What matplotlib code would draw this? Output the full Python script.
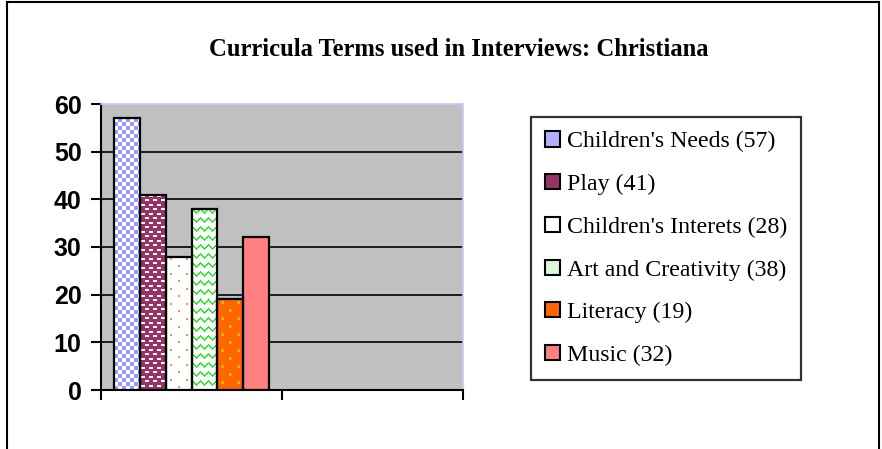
import numpy as np
import matplotlib
matplotlib.use("Agg")
from matplotlib import pyplot as plt
from matplotlib.patches import Patch, Rectangle
from matplotlib.colors import to_rgb

# chart data
terms = ["Children's Needs", "Play", "Children's Interets",
         "Art and Creativity", "Literacy", "Music"]
counts = [57, 41, 28, 38, 19, 32]
yticks = [0, 10, 20, 30, 40, 50, 60]

bar_colors = ["#9999ff", "#993366", "#ffffff", "#ffffff", "#ff6600", "#ff8080"]
mark_colors = ["#ffffff", "#ffffff", "#ff8c4a", "#22ee22", "#ffcc00", "#ff8080"]
legend_colors = ["#b0b0ff", "#993366", "#ffffff", "#d8f8d8", "#ff6600", "#ff8080"]


def make_tile(kind):
    """Small pixel tile for the Excel-like fill patterns (1 = mark colour)."""
    if kind == "checker":
        return np.kron(np.array([[1, 0], [0, 1]]), np.ones((4, 4), dtype=int))
    if kind == "dashes":
        t = np.zeros((9, 8), dtype=int)
        t[1:3, 1:5] = 1
        t[5:7, [5, 6, 7, 0]] = 1
    elif kind == "dots":
        t = np.zeros((15, 16), dtype=int)
        t[2:4, 4:6] = 1
        t[9:11, 12:14] = 1
    elif kind == "zigzag":
        t = np.zeros((9, 8), dtype=int)
        rows = [0, 1, 2, 3, 4, 3, 2, 1]
        for c, r in enumerate(rows):
            t[r, c] = 1
            t[r + 1, c] = 1
    elif kind == "chevrons":
        t = np.zeros((16, 16), dtype=int)
        # "<" mark
        t[2, 5:7] = 1
        t[3, 4:6] = 1
        t[4, 5:7] = 1
        # ">" mark
        t[10, 12:14] = 1
        t[11, 13:15] = 1
        t[12, 12:14] = 1
    return t


patterns = ["checker", "dashes", "dots", "zigzag", "chevrons", None]

fig = plt.figure(figsize=(8.82, 4.49), dpi=100)
fig.patch.set_facecolor("white")
ax = fig.add_axes([101 / 882, 1 - 390 / 449, (463 - 101) / 882, (390 - 104) / 449])
ax.set_facecolor("#c0c0c0")
ax.set_xlim(0, 2)
ax.set_ylim(0, 60)

width = 0.1435
xpos = [0.5 + (i - 2.5) * width for i in range(len(terms))]

for y in yticks[1:-1]:
    ax.axhline(y, color="black", linewidth=1.2, zorder=1)

bars = ax.bar(xpos, counts, width, color=bar_colors, edgecolor="none", zorder=2)

# pattern fill, one pixel of the tile per screen pixel
for bar, kind, bg, fg in zip(bars, patterns, bar_colors, mark_colors):
    if kind is None:
        continue
    x0, y0 = bar.get_x(), bar.get_y()
    x1, y1 = x0 + bar.get_width(), y0 + bar.get_height()
    (px0, py0), (px1, py1) = ax.transData.transform([(x0, y0), (x1, y1)])
    w_px, h_px = int(round(px1 - px0)), int(round(py1 - py0))
    tile = make_tile(kind)
    reps = (h_px // tile.shape[0] + 2, w_px // tile.shape[1] + 2)
    mask = np.tile(tile, reps)[:h_px, :w_px].astype(bool)
    img = np.where(mask[..., None], np.array(to_rgb(fg)), np.array(to_rgb(bg)))
    im = ax.imshow(img, extent=(x0, x1, y0, y1), origin="upper",
                   interpolation="nearest", aspect="auto", zorder=3)
    im.set_clip_path(bar)

ax.bar(xpos, counts, width, fill=False, edgecolor="black", linewidth=1.6, zorder=4)
ax.set_xlim(0, 2)
ax.set_ylim(0, 60)

ax.set_xticks([0, 1, 2])
ax.set_xticklabels([])
ax.set_yticks(yticks)
ax.set_yticklabels([str(v) for v in yticks], fontfamily="Liberation Sans",
                   fontweight="bold", fontsize=18)
ax.tick_params(axis="y", length=7, width=1.5, pad=7)
ax.tick_params(axis="x", length=7, width=1.5)
for side in ["left", "bottom"]:
    ax.spines[side].set_linewidth(1.5)
    ax.spines[side].set_color("black")
for side in ["top", "right"]:
    ax.spines[side].set_color("#c8c8ff")
    ax.spines[side].set_linewidth(1.2)

fig.text(0.52, 1 - 49 / 449, "Curricula Terms used in Interviews: Christiana",
         ha="center", va="center", fontfamily="Liberation Serif",
         fontweight="bold", fontsize=17.7)

handles = [Patch(facecolor=c, edgecolor="black", linewidth=1.5) for c in legend_colors]
labels = ["{} ({})".format(t, n) for t, n in zip(terms, counts)]
leg = fig.legend(handles, labels, loc="upper left",
                 bbox_to_anchor=(531 / 882, 1 - 117 / 449), borderaxespad=0,
                 prop={"family": "Liberation Serif", "size": 17.2},
                 handlelength=0.6, handleheight=0.6, handletextpad=0.3,
                 labelspacing=0.9, borderpad=0.6, fancybox=False)
leg.get_frame().set_edgecolor("black")
leg.get_frame().set_linewidth(1.6)

# outer chart border (bottom edge runs off the picture)
fig.patches.append(Rectangle((7 / 882, -0.05), 872 / 882, 1.05 - 2 / 449,
                             transform=fig.transFigure, fill=False,
                             edgecolor="black", linewidth=1.5))

fig.savefig("out.png", dpi=100)
